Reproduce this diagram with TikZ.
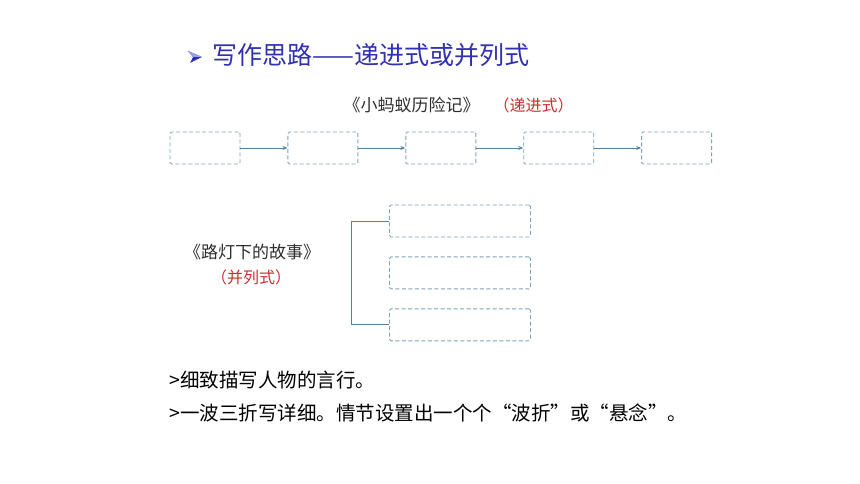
\documentclass[tikz,border=0pt]{standalone}
\usepackage{fontspec}
\usepackage{xcolor}
\newfontfamily\cjk{Noto Sans CJK SC}
\usetikzlibrary{arrows.meta, positioning}
\definecolor{titleblue}{RGB}{48,48,178}
\definecolor{markblue}{RGB}{150,160,225}
\definecolor{boxblue}{RGB}{125,162,186}
\definecolor{linkblue}{RGB}{88,128,158}
\definecolor{notered}{RGB}{200,48,48}
\definecolor{inkgray}{RGB}{45,45,45}
\def\gap{47pt}
\begin{document}
\begin{tikzpicture}[
    x=1pt, y=-1pt,
    >={Stealth[length=5pt,width=4pt]},
    stagebox/.style={draw=boxblue, line width=0.9pt, dash pattern=on 4pt off 2.5pt,
        rounded corners=1.5pt, inner sep=0pt, minimum width=70pt, minimum height=32pt},
    partbox/.style={stagebox, minimum width=141pt},
    link/.style={draw=linkblue, line width=0.9pt},
    every node/.style={font=\cjk}
]
\useasboundingbox (0,0) rectangle (860,484);

% title
\fill[titleblue] (188,51) -- (202,57) -- (190,63) -- (193,57) -- cycle;
\fill[markblue] (188,51) -- (202,57) -- (193,57) -- cycle;
\node[anchor=west, text=titleblue, font=\cjk\fontsize{25}{28}\selectfont] (title) at (209,55) {写作思路——递进式或并列式};

% progressive
\node[anchor=west, text=inkgray, font=\cjk\fontsize{17}{20}\selectfont] (story1) at (340,105) {《小蚂蚁历险记》};
\node[anchor=west, text=notered, font=\cjk\fontsize{16}{20}\selectfont] (kind1) at (490,105) {（递进式）};

\node[stagebox] (s1) at (205,148) {};
\node[stagebox, right=\gap of s1] (s2) {};
\node[stagebox, right=\gap of s2] (s3) {};
\node[stagebox, right=\gap of s3] (s4) {};
\node[stagebox, right=\gap of s4] (s5) {};
\foreach \i/\j in {s1/s2, s2/s3, s3/s4, s4/s5}
    \draw[link, ->] (\i) -- (\j);

% parallel
\node[text=inkgray, font=\cjk\fontsize{17}{20}\selectfont] (story2) at (252,252) {《路灯下的故事》};
\node[text=notered, font=\cjk\fontsize{16}{20}\selectfont] (kind2) at (251,277) {（并列式）};

\node[partbox] (p1) at (460,221) {};
\node[partbox, below=19pt of p1] (p2) {};
\node[partbox, below=19pt of p2] (p3) {};
\draw[link] (p1.west) -- ++(-38,0) |- (p3.west);

% notes
\node[anchor=west, font=\cjk\fontsize{19.5}{24}\selectfont] (note1) at (166,380) {>细致描写人物的言行。};
\node[anchor=west, font=\cjk\fontsize{19.5}{24}\selectfont] (note2) at (166,413) {>一波三折写详细。情节设置出一个个“波折”或“悬念”。};
\end{tikzpicture}
\end{document}
